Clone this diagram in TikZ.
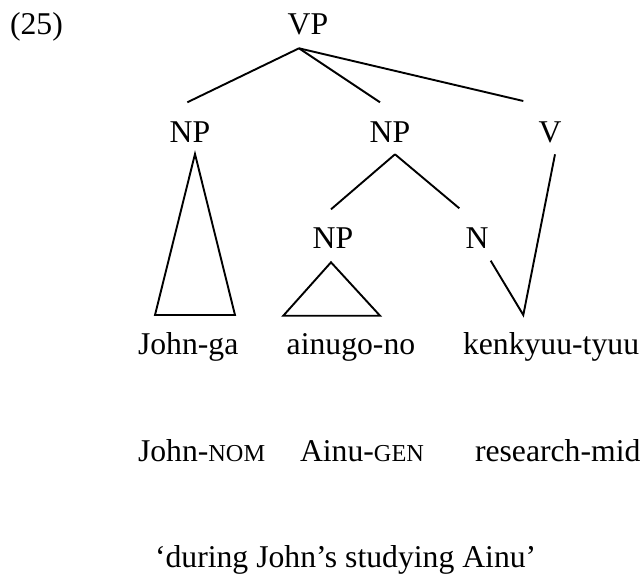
\documentclass[tikz,border=0pt]{standalone}
\usepackage{fontspec}
\setmainfont{Liberation Serif}
% reduced capitals for grammatical glosses
\newcommand\glosscap[1]{{\fontsize{24.3}{29}\selectfont #1}}
\begin{document}
\begin{tikzpicture}[x=1pt,y=-1pt,
  lbl/.style={inner sep=0pt, outer sep=0pt, anchor=base,
              font=\fontsize{31.7}{38}\selectfont},
  word/.style={lbl, anchor=base west},
  branch/.style={line width=1.9pt, line cap=butt, line join=miter}]
\useasboundingbox (0,0) rectangle (642,576);

% example number
\node[word] (num) at (10,34) {(25)};

% category labels
\node[lbl] (vp)  at (308,34)  {VP};
\node[lbl] (np1) at (190,142) {NP};
\node[lbl] (np2) at (390,142) {NP};
\node[lbl] (v)   at (550,142) {V};
\node[lbl] (np3) at (333,248) {NP};
\node[lbl] (n)   at (477,248) {N};

% words, glosses and translation
\node[word] (w1) at (138,354) {John-ga};
\node[word] (w2) at (286.7,354) {ainugo-no};
\node[word] (w3) at (463,354) {kenkyuu-tyuu};
\node[word] (g1) at (138,461) {John-\glosscap{NOM}};
\node[word] (g2) at (300,461) {Ainu-\glosscap{GEN}};
\node[word] (g3) at (475,461) {research-mid};
\node[word] (tr) at (155,567) {‘during John’s studying Ainu’};

% branch end points
\coordinate (vp-b)  at (299,48.3);
\coordinate (np1-t) at (187.3,102.3);
\coordinate (np2-t) at (380,102.3);
\coordinate (v-t)   at (523.3,101);
\coordinate (np1-b) at (195,154);
\coordinate (np2-b) at (395,154.3);
\coordinate (v-b)   at (555,154.3);
\coordinate (np3-t) at (331,209.3);
\coordinate (n-t)   at (459.3,208.3);
\coordinate (np3-b) at (331,262.3);
\coordinate (n-b)   at (490.7,260.7);
\coordinate (tri1-l) at (155,315);
\coordinate (tri1-r) at (235,315);
\coordinate (tri3-l) at (283.3,315.7);
\coordinate (tri3-r) at (380,315.7);
\coordinate (w3-t)  at (523.3,315);

% VP branches
\draw[branch] (vp-b) -- (np1-t);
\draw[branch] (vp-b) -- (np2-t);
\draw[branch] (vp-b) -- (v-t);
% NP branches
\draw[branch] (np2-b) -- (np3-t);
\draw[branch] (np2-b) -- (n-t);
% triangles for unanalysed NPs
\draw[branch] (np1-b) -- (tri1-l) -- (tri1-r) -- cycle;
\draw[branch] (np3-b) -- (tri3-l) -- (tri3-r) -- cycle;
% N and V meet over the compound
\draw[branch] (n-b) -- (w3-t) -- (v-b);
\end{tikzpicture}
\end{document}
